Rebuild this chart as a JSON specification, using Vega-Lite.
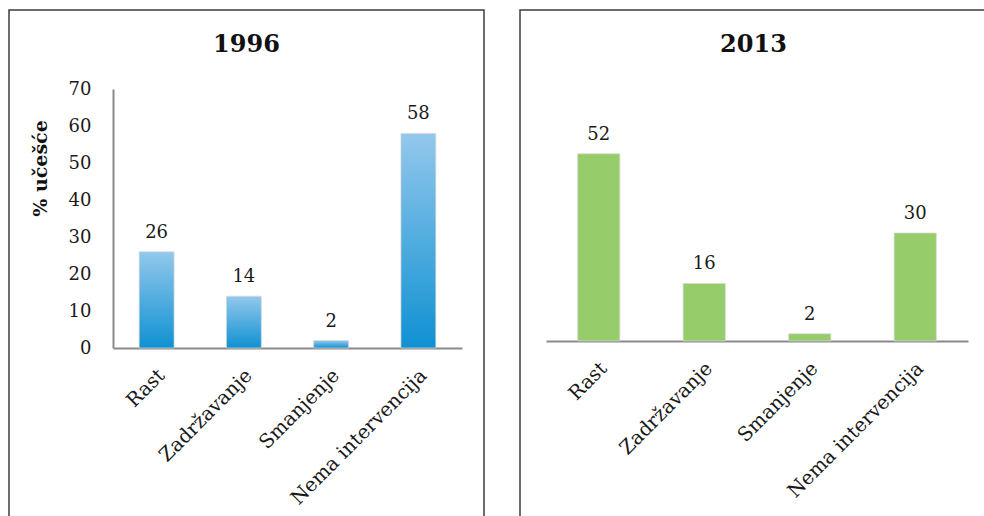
{
  "$schema": "https://vega.github.io/schema/vega-lite/v6.json",
  "padding": {"left": 8, "top": 9, "right": 0, "bottom": 0},
  "background": "white",
  "spacing": 34,
  "config": {
    "view": {"stroke": "#3c3c3c", "strokeWidth": 1.5},
    "font": "DejaVu Serif",
    "title": {"font": "DejaVu Serif", "fontSize": 24, "fontWeight": "bold", "color": "#111111", "anchor": "middle", "frame": "group", "baseline": "alphabetic"}
  },
  "datasets": {
    "y1996": [
      {"kategorija": "Rast", "vrijednost": 26},
      {"kategorija": "Zadržavanje", "vrijednost": 14},
      {"kategorija": "Smanjenje", "vrijednost": 2},
      {"kategorija": "Nema intervencija", "vrijednost": 58}
    ],
    "y2013": [
      {"kategorija": "Rast", "vrijednost": 52},
      {"kategorija": "Zadržavanje", "vrijednost": 16},
      {"kategorija": "Smanjenje", "vrijednost": 2},
      {"kategorija": "Nema intervencija", "vrijednost": 30}
    ]
  },
  "hconcat": [
    {
      "width": 475,
      "height": 507,
      "title": {"text": "1996", "offset": -47},
      "data": {"name": "y1996"},
      "encoding": {
        "x": {
          "field": "kategorija", "type": "nominal", "sort": null,
          "scale": {"range": [104, 453], "paddingInner": 0.6, "paddingOuter": 0.3},
          "axis": {
            "title": null, "offset": -169, "domainColor": "#8a8a8a", "domainWidth": 2,
            "ticks": false, "labelAngle": -45, "labelAlign": "right", "labelBaseline": "middle",
            "labelPadding": 24, "labelOffset": 5, "labelFont": "DejaVu Serif", "labelFontSize": 19.5,
            "labelColor": "#1a1a1a", "labelLimit": 400
          }
        },
        "y": {
          "field": "vrijednost", "type": "quantitative",
          "scale": {"domain": [0, 70], "range": [338, 79], "nice": false},
          "axis": {
            "title": "% učešće", "offset": -104, "domainColor": "#8a8a8a", "domainWidth": 2,
            "ticks": false, "grid": false, "values": [0, 10, 20, 30, 40, 50, 60, 70],
            "labelPadding": 22, "labelFont": "DejaVu Serif", "labelFontSize": 18, "labelColor": "#1a1a1a",
            "titleFont": "DejaVu Serif", "titleFontSize": 19, "titleFontWeight": "bold", "titleColor": "#111111",
            "titleX": -73, "titleY": 158, "titleBaseline": "middle", "titleAlign": "center", "titleAngle": -90
          }
        }
      },
      "layer": [
        {
          "mark": {
            "type": "bar",
            "stroke": "#d8d8d8", "strokeWidth": 1, "strokeOpacity": 0.7,
            "color": {
              "gradient": "linear", "x1": 0, "y1": 0, "x2": 0, "y2": 1,
              "stops": [{"offset": 0, "color": "#93c8ec"}, {"offset": 1, "color": "#0f91d2"}]
            }
          }
        },
        {
          "mark": {"type": "text", "baseline": "alphabetic", "dy": -14, "fontSize": 18, "font": "DejaVu Serif", "color": "#1a1a1a"},
          "encoding": {"text": {"field": "vrijednost", "type": "quantitative"}}
        }
      ]
    },
    {
      "width": 467,
      "height": 507,
      "title": {"text": "2013", "offset": -47},
      "data": {"name": "y2013"},
      "encoding": {
        "x": {
          "field": "kategorija", "type": "nominal", "sort": null,
          "scale": {"range": [26, 448], "paddingInner": 0.6, "paddingOuter": 0.3},
          "axis": {
            "title": null, "offset": -176, "domainColor": "#8a8a8a", "domainWidth": 2,
            "ticks": false, "labelAngle": -45, "labelAlign": "right", "labelBaseline": "middle",
            "labelPadding": 24, "labelOffset": 5, "labelFont": "DejaVu Serif", "labelFontSize": 19.5,
            "labelColor": "#1a1a1a", "labelLimit": 400
          }
        },
        "y": {
          "field": "vrijednost", "type": "quantitative",
          "scale": {"domain": [0, 60], "range": [331, 115], "nice": false},
          "axis": null
        }
      },
      "layer": [
        {
          "mark": {"type": "bar", "color": "#97cc6a", "stroke": "#d8d8d8", "strokeWidth": 1, "strokeOpacity": 0.7}
        },
        {
          "mark": {"type": "text", "baseline": "alphabetic", "dy": -14, "fontSize": 18, "font": "DejaVu Serif", "color": "#1a1a1a"},
          "encoding": {"text": {"field": "vrijednost", "type": "quantitative"}}
        }
      ]
    }
  ]
}
